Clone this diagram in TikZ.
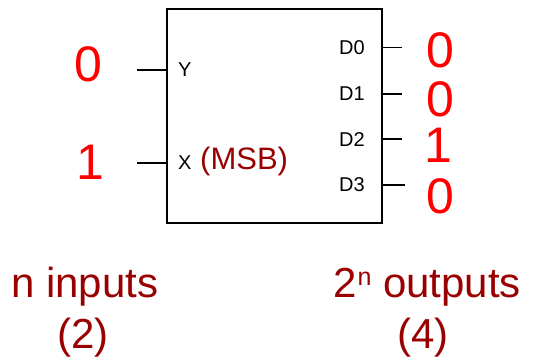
\documentclass[tikz,border=0pt]{standalone}
\usepackage{fontspec}
\setmainfont{Liberation Sans}
\definecolor{dkred}{RGB}{153,0,0}
\definecolor{brred}{RGB}{255,0,0}
\begin{document}
\begin{tikzpicture}[x=1pt,y=-1pt,
  wire/.style={line width=1.6pt},
  pin/.style={inner sep=0pt,font=\fontsize{20}{20}\selectfont},
  bit/.style={inner sep=0pt,text=brred,font=\fontsize{50}{50}\selectfont},
  note/.style={inner sep=0pt,text=dkred,font=\fontsize{42}{42}\selectfont}]
\useasboundingbox (0,0) rectangle (535,358);
\node[draw,line width=1.6pt,minimum width=215pt,minimum height=214pt,inner sep=0pt] (box) at (274.5,116) {};
% input pins
\coordinate (yin) at (167,70);
\coordinate (xin) at (167,163);
\coordinate (yend) at (137,70);
\coordinate (xend) at (137,163);
\draw[wire] (yend) -- (yin);
\draw[wire] (xend) -- (xin);
\node[pin,anchor=base west] (ylab) at (178,77) {Y};
\node[pin,anchor=base west] (xlab) at (178,170) {X};
\node[inner sep=0pt,anchor=base west,text=dkred,font=\fontsize{31}{31}\selectfont] (msb) at (200,170) {(MSB)};
\node[bit,anchor=base] (b0) at (88,82) {0};
\node[bit,anchor=base] (b1) at (90,180) {1};
% output pins
\coordinate (d0) at (382,47.7);
\coordinate (d1) at (382,94);
\coordinate (d2) at (382,139.3);
\coordinate (d3) at (382,185);
\coordinate (e0) at (402,47.7);
\coordinate (e1) at (402,94);
\coordinate (e2) at (402,139.3);
\coordinate (e3) at (405,185);
\draw[wire] (d0) -- (e0);
\draw[wire] (d1) -- (e1);
\draw[wire] (d2) -- (e2);
\draw[wire] (d3) -- (e3);
\node[pin,anchor=base east] (l0) at (365,54.5) {D0};
\node[pin,anchor=base east] (l1) at (365,101) {D1};
\node[pin,anchor=base east] (l2) at (365,146.5) {D2};
\node[pin,anchor=base east] (l3) at (365,192) {D3};
\node[bit,anchor=base] (o0) at (440,68) {0};
\node[bit,anchor=base] (o1) at (440,117) {0};
\node[bit,anchor=base] (o2) at (438,163) {1};
\node[bit,anchor=base] (o3) at (440,213) {0};
% notes
\node[note,anchor=base west] (nin) at (11,297) {n inputs};
\node[note,anchor=base] (nin2) at (83,348) {(2)};
\node[note,anchor=base west] (nout) at (333,297) {2\kern1pt\raisebox{12pt}{\fontsize{25}{25}\selectfont n} outputs};
\node[note,anchor=base] (nout2) at (423,348) {(4)};
\end{tikzpicture}
\end{document}
